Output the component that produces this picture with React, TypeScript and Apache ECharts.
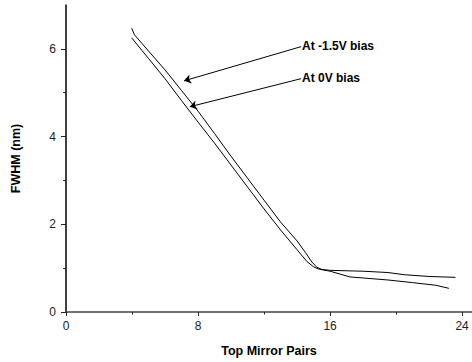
import React, { useEffect, useRef } from "react";
import * as echarts from "echarts";

const biasNeg15: [number, number][] = [
  [3.98, 6.47], [4.15, 6.32], [5, 5.95], [6, 5.52], [7, 5.05], [8, 4.58],
  [9, 4.07], [10, 3.55], [11, 3.05], [12, 2.55], [13, 2.05], [14, 1.62],
  [14.5, 1.36], [14.9, 1.14], [15.2, 1.02], [15.5, 0.97], [16, 0.95],
  [18, 0.93], [19.5, 0.9], [20.5, 0.85], [22, 0.81], [23.6, 0.79],
];
const bias0: [number, number][] = [
  [3.98, 6.25], [5, 5.78], [6, 5.32], [7, 4.82], [8, 4.33], [9, 3.85],
  [10, 3.35], [11, 2.85], [12, 2.35], [13, 1.87], [14, 1.42], [14.6, 1.15],
  [15, 1.03], [15.3, 0.98], [16, 0.93], [17.2, 0.8], [19.5, 0.73],
  [21, 0.67], [22.4, 0.61], [23.2, 0.54],
];
const xMajorTicks = [0, 8, 16, 24];
const xMinorTicks = [4, 12, 20];
const yMajorTicks = [0, 2, 4, 6];
const yMinorTicks = [1, 3, 5];
const labelNeg15 = "At -1.5V bias";
const label0 = "At 0V bias";
const arrowNeg15: [number, number][] = [[14.24, 6.05], [7.15, 5.27]];
const arrow0: [number, number][] = [[14.24, 5.32], [7.5, 4.68]];

const font = "'Liberation Sans', Arial, sans-serif";

export default function App() {
  const ref = useRef<HTMLDivElement>(null);
  useEffect(() => {
    if (!ref.current) return;
    const chart = echarts.init(ref.current, undefined, { renderer: "svg" });
    const mkArrow = (pts: [number, number][], text: string) => ({
      symbol: ["none", "arrow"],
      symbolSize: 7,
      silent: true,
      lineStyle: { color: "#000", width: 1, type: "solid" },
      label: {
        show: true,
        position: "start",
        distance: 1,
        formatter: text,
        fontFamily: font,
        fontWeight: "bold",
        fontSize: 12,
        color: "#000",
      },
      data: [[{ coord: pts[0] }, { coord: pts[1] }]],
    });
    chart.setOption({
      animation: false,
      grid: { left: 66, right: 0, top: 5, bottom: 49 },
      xAxis: [
        {
          type: "value",
          min: 0,
          max: 24.6,
          interval: 8,
          splitLine: { show: false },
          axisLine: { lineStyle: { color: "#444", width: 1.5 } },
          axisTick: { customValues: xMajorTicks, length: 4, lineStyle: { color: "#222" } },
          axisLabel: {
            customValues: xMajorTicks,
            margin: 8,
            fontFamily: font,
            fontSize: 12,
            color: "#222",
          },
          name: "Top Mirror Pairs",
          nameLocation: "middle",
          nameGap: 32,
          nameTextStyle: { fontFamily: font, fontWeight: "bold", fontSize: 12.5, color: "#000" },
        },
        {
          type: "value",
          min: 0,
          max: 24.6,
          position: "bottom",
          axisLine: { show: false },
          splitLine: { show: false },
          axisLabel: { show: false },
          axisTick: { customValues: xMinorTicks, length: 2.5, lineStyle: { color: "#222" } },
        },
      ],
      yAxis: [
        {
          type: "value",
          min: 0,
          max: 7,
          interval: 2,
          splitLine: { show: false },
          axisLine: { show: true, lineStyle: { color: "#000", width: 1.5 } },
          axisTick: { show: true, customValues: yMajorTicks, length: 5, lineStyle: { color: "#222" } },
          axisLabel: {
            customValues: yMajorTicks,
            margin: 10,
            fontFamily: font,
            fontSize: 12,
            color: "#222",
          },
          name: "FWHM (nm)",
          nameLocation: "middle",
          nameGap: 44,
          nameRotate: 90,
          nameTextStyle: { fontFamily: font, fontWeight: "bold", fontSize: 12.5, color: "#000" },
        },
        {
          type: "value",
          min: 0,
          max: 7,
          position: "left",
          axisLine: { show: false },
          splitLine: { show: false },
          axisLabel: { show: false },
          axisTick: { show: true, customValues: yMinorTicks, length: 3, lineStyle: { color: "#222" } },
        },
      ],
      series: [
        {
          name: labelNeg15,
          type: "line",
          data: biasNeg15,
          showSymbol: false,
          symbol: "none",
          lineStyle: { color: "#000", width: 1 },
          markLine: mkArrow(arrowNeg15, labelNeg15),
        },
        {
          name: label0,
          type: "line",
          data: bias0,
          showSymbol: false,
          symbol: "none",
          lineStyle: { color: "#000", width: 1 },
          markLine: mkArrow(arrow0, label0),
        },
      ],
    });
    return () => chart.dispose();
  }, []);
  return <div ref={ref} style={{ width: 472, height: 362, position: "absolute", left: 0, top: 0 }} />;
}
